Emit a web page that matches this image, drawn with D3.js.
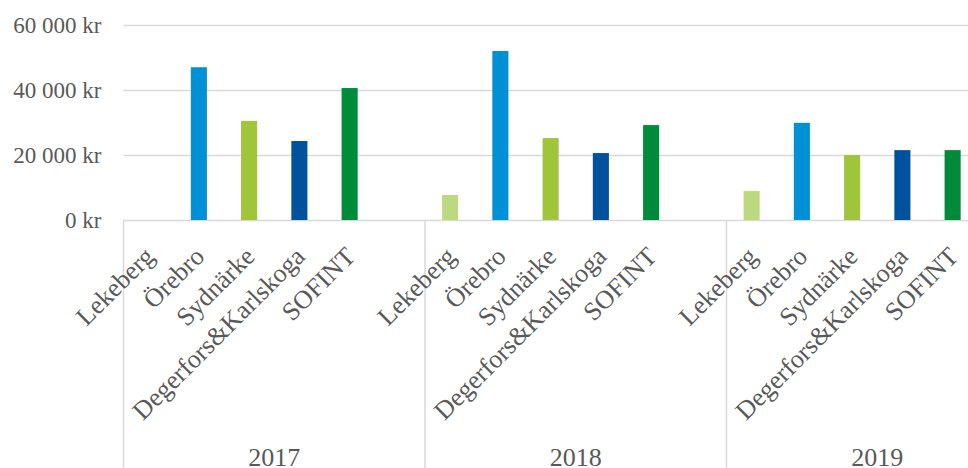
<!DOCTYPE html>
<html><head><meta charset="utf-8">
<script src="https://cdn.jsdelivr.net/npm/d3@7"></script>
<style>
html,body{margin:0;padding:0;background:#fff;}
svg{display:block;font-family:"Liberation Serif","Times New Roman",serif;}
</style></head>
<body><svg id="c" width="968" height="468"></svg>
<script>
const years = ["2017", "2018", "2019"];
const categories = ["Lekeberg", "Örebro", "Sydnärke", "Degerfors&Karlskoga", "SOFINT"];
const values2017 = [0, 47000, 30500, 24300, 40600];
const values2018 = [7700, 52000, 25200, 20600, 29200];
const values2019 = [8900, 29900, 20000, 21500, 21500];
const seriesByYear = [values2017, values2018, values2019];
const yTicks = [0, 20000, 40000, 60000];
const colors = ["#bdd97f", "#0090d6", "#a0c43a", "#00529f", "#008b3b"];

const svg = d3.select("#c");
const plotLeft = 123.5, groupW = 301.5, plotTop = 25, plotBottom = 220;
const slots = [...categories, " "];

const x0 = d3.scaleBand().domain(years).range([plotLeft, plotLeft + groupW * years.length]).padding(0);
const x1 = d3.scaleBand().domain(slots).range([0, groupW]).paddingInner(0.68).paddingOuter(0.34);
const y = d3.scaleLinear().domain([0, 60000]).range([plotBottom, plotTop]);

const fmt = v => d3.format(",")(v).replace(/,/g, " ") + " kr";

// gridlines + y labels
const yAxis = d3.axisLeft(y).tickValues(yTicks).tickFormat(fmt).tickSize(-(968 - plotLeft + 10)).tickPadding(22);
const ga = svg.append("g").attr("transform", `translate(${plotLeft},0)`).call(yAxis);
ga.select(".domain").remove();
ga.selectAll(".tick line").attr("stroke", "#d9d9d9").attr("stroke-width", 1.5);
ga.selectAll(".tick text").attr("fill", "#595959").style("font-size", "23px").style("font-family", "Liberation Serif, serif");

// group separators
const seps = years.map(yr => x0(yr)).concat([x0(years[years.length - 1]) + x0.bandwidth()]);
svg.selectAll(".sep").data(seps).enter().append("line")
  .attr("x1", d => d).attr("x2", d => d).attr("y1", plotBottom).attr("y2", 468)
  .attr("stroke", "#d9d9d9").attr("stroke-width", 1.5);

// bars
const data = [];
years.forEach((yr, gi) => categories.forEach((c, ci) => data.push({yr, c, ci, v: seriesByYear[gi][ci]})));
svg.selectAll(".bar").data(data.filter(d => d.v > 0)).enter().append("rect")
  .attr("x", d => x0(d.yr) + x1(d.c))
  .attr("width", x1.bandwidth())
  .attr("y", d => y(d.v))
  .attr("height", d => plotBottom - y(d.v))
  .attr("fill", d => colors[d.ci]);

// category labels
svg.selectAll(".cl").data(data).enter().append("text")
  .attr("transform", d => `translate(${x0(d.yr) + x1(d.c) + x1.bandwidth() / 2 + 7},${plotBottom + 38}) rotate(-45)`)
  .attr("text-anchor", "end")
  .attr("fill", "#595959").style("font-size", "26px")
  .text(d => d.c);

// year labels
svg.selectAll(".yl").data(years).enter().append("text")
  .attr("x", d => x0(d) + x0.bandwidth() / 2).attr("y", 466)
  .attr("text-anchor", "middle").attr("fill", "#595959").style("font-size", "26px")
  .text(d => d);
</script></body></html>
